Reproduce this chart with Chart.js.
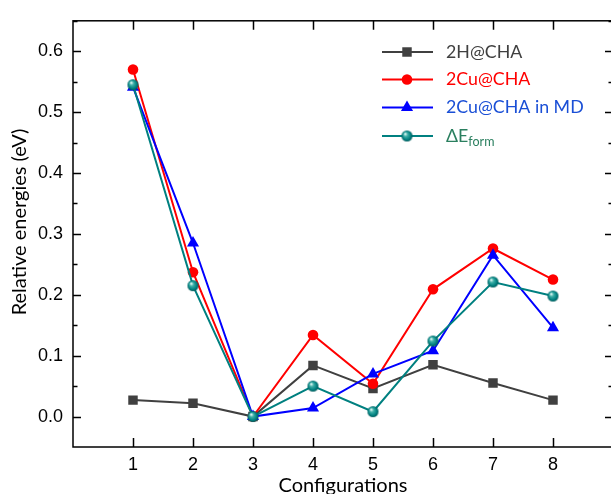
<!DOCTYPE html>
<html>
<head>
<meta charset="utf-8">
<script src="https://cdn.jsdelivr.net/npm/chart.js@4.4.1/dist/chart.umd.min.js"></script>
<style>
    html, body { margin: 0; padding: 0; background: #fff; overflow: hidden; }
    canvas { display: block; }
</style>
</head>
<body>
<canvas id="energyChart" width="620" height="494"></canvas>
<script>
// configurations on the x axis
const configurations = [1, 2, 3, 4, 5, 6, 7, 8];
const yTicks = [0.0, 0.1, 0.2, 0.3, 0.4, 0.5, 0.6];

// relative energies (eV)
const h2Cha = [0.027, 0.022, 0.000, 0.084, 0.046, 0.085, 0.055, 0.027];
const cu2Cha = [0.570, 0.237, 0.000, 0.134, 0.054, 0.209, 0.276, 0.225];
const cu2ChaMd = [0.541, 0.285, 0.000, 0.014, 0.070, 0.108, 0.265, 0.146];
const dEform = [0.545, 0.215, 0.000, 0.050, 0.008, 0.124, 0.221, 0.198];

const TICK_FONT = { family: '"Liberation Sans", Arial, sans-serif', size: 18 };
const LABEL_FONT = 'Lato, "Open Sans", sans-serif';

/**
 * Shaded ball used for the ΔE_form markers
 */
function makeBall(r) {
    const c = document.createElement('canvas');
    c.width = c.height = r * 2 + 2;
    const ctx = c.getContext('2d');
    const cx = r + 1;
    const g = ctx.createRadialGradient(cx - r * 0.35, cx - r * 0.4, 0.5, cx, cx, r);
    g.addColorStop(0, '#e8fbf8');
    g.addColorStop(0.3, '#3fb0a8');
    g.addColorStop(0.75, '#008080');
    g.addColorStop(1, '#005a5a');
    ctx.fillStyle = g;
    ctx.beginPath();
    ctx.arc(cx, cx, r, 0, Math.PI * 2);
    ctx.fill();
    return c;
}
const ball = makeBall(5.5);

const toPoints = arr => arr.map((v, i) => ({ x: configurations[i], y: v }));

const series = [
    { label: '2H@CHA', data: h2Cha, color: '#404040', text: '#404040', style: 'rect', radius: 6.7, order: 4 },
    { label: '2Cu@CHA', data: cu2Cha, color: '#ff0000', text: '#ff0000', style: 'circle', radius: 5.3, order: 3 },
    { label: '2Cu@CHA in MD', data: cu2ChaMd, color: '#0000ff', text: '#1a4fd6', style: 'triangle', radius: 7, order: 2 },
    { label: 'ΔE', sub: 'form', data: dEform, color: '#008080', text: '#2a7f5f', style: ball, radius: 5.5, order: 1 }
];

// frame, inward ticks, axis titles and legend
const decorations = {
    id: 'decorations',
    afterDraw(chart) {
        const { ctx, chartArea: a, scales: { x, y } } = chart;
        ctx.save();
        ctx.strokeStyle = '#000';
        ctx.lineWidth = 1.5;
        ctx.strokeRect(a.left, a.top, a.right - a.left, a.bottom - a.top);

        ctx.beginPath();
        yTicks.forEach(v => {
            const py = Math.round(y.getPixelForValue(v)) + 0.5;
            ctx.moveTo(a.left, py); ctx.lineTo(a.left + 8, py);
            ctx.moveTo(a.right, py); ctx.lineTo(a.right - 8, py);
            const pm = Math.round(y.getPixelForValue(v + 0.05)) + 0.5;
            ctx.moveTo(a.left, pm); ctx.lineTo(a.left + 4.5, pm);
            ctx.moveTo(a.right, pm); ctx.lineTo(a.right - 4.5, pm);
        });
        configurations.forEach(c => {
            const px = Math.round(x.getPixelForValue(c)) + 0.5;
            ctx.moveTo(px, a.bottom); ctx.lineTo(px, a.bottom - 9);
            ctx.moveTo(px, a.top); ctx.lineTo(px, a.top + 9);
        });
        ctx.stroke();

        // axis titles
        ctx.fillStyle = '#000';
        ctx.font = '20px ' + LABEL_FONT;
        ctx.textAlign = 'center';
        ctx.textBaseline = 'middle';
        ctx.fillText('Configurations', 343, 486);
        ctx.translate(20, 222);
        ctx.rotate(-Math.PI / 2);
        ctx.fillText('Relative energies (eV)', 0, 0);
        ctx.restore();

        // legend
        ctx.save();
        const rows = [52, 79.5, 107.5, 136];
        series.forEach((s, i) => {
            const ly = rows[i];
            ctx.strokeStyle = s.color;
            ctx.lineWidth = 2;
            ctx.beginPath();
            ctx.moveTo(382, ly); ctx.lineTo(433, ly);
            ctx.stroke();
            if (s.style instanceof HTMLCanvasElement) {
                ctx.drawImage(s.style, 407 - s.style.width / 2, ly - s.style.height / 2);
            } else {
                ctx.fillStyle = s.color;
                Chart.helpers.drawPoint(ctx, { pointStyle: s.style, radius: s.radius, borderWidth: 0 }, 407, ly);
            }
            ctx.fillStyle = s.text;
            ctx.font = '17.8px ' + LABEL_FONT;
            ctx.textAlign = 'left';
            ctx.textBaseline = 'middle';
            ctx.fillText(s.label, 446, ly);
            if (s.sub) {
                const w = ctx.measureText(s.label).width;
                ctx.font = '12.5px ' + LABEL_FONT;
                ctx.fillText(s.sub, 446 + w, ly + 6);
            }
        });
        ctx.restore();
    }
};

new Chart(document.getElementById('energyChart'), {
    type: 'line',
    data: {
        datasets: series.map(s => ({
            label: s.label,
            data: toPoints(s.data),
            borderColor: s.color,
            backgroundColor: s.color,
            borderWidth: 2,
            pointStyle: s.style,
            pointRadius: s.radius,
            pointBorderWidth: 0,
            pointBackgroundColor: s.color,
            order: s.order,
            tension: 0
        }))
    },
    options: {
        responsive: false,
        animation: false,
        layout: { padding: { top: 11, right: 4, left: 0, bottom: 0 } },
        plugins: { legend: { display: false }, tooltip: { enabled: false } },
        scales: {
            x: {
                type: 'linear',
                min: 0,
                max: 9,
                grid: { display: false, drawTicks: false },
                border: { display: false },
                afterBuildTicks: s => { s.ticks = configurations.map(v => ({ value: v })); },
                afterFit: s => { s.height = 47; },
                ticks: { color: '#000', font: TICK_FONT, padding: 7, maxRotation: 0, autoSkip: false }
            },
            y: {
                min: -0.05,
                max: 0.65,
                grid: { display: false, drawTicks: false },
                border: { display: false },
                afterBuildTicks: s => { s.ticks = yTicks.map(v => ({ value: v })); },
                afterFit: s => { s.width = 73; },
                ticks: { color: '#000', font: TICK_FONT, padding: 10, callback: v => v.toFixed(1) }
            }
        }
    },
    plugins: [decorations]
});
</script>
</body>
</html>
